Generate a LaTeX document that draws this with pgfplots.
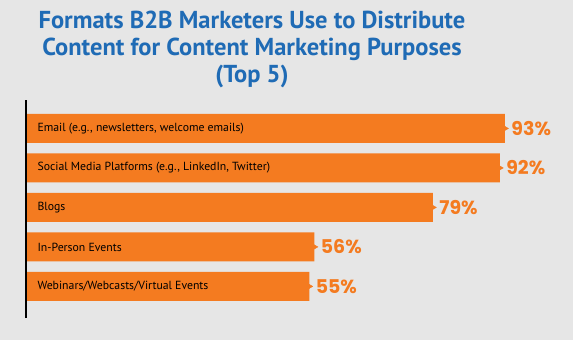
\documentclass[border=0pt]{standalone}
\usepackage{pgfplots}
\pgfplotsset{compat=1.18}
\usepackage{fontspec}
\setmainfont{PT Sans}
\newfontfamily\pop{Poppins}
\definecolor{bg}{HTML}{E6E6E6}
\definecolor{tblue}{HTML}{1F6BB5}
\definecolor{org}{HTML}{F47B20}
\begin{document}
\begin{tikzpicture}
\fill[bg] (0,0) rectangle (573bp,-340bp);
\node[anchor=base, text=tblue, font=\fontsize{24.6}{28}\selectfont\bfseries] at (252bp,-28bp) {Formats B2B Marketers Use to Distribute};
\node[anchor=base, text=tblue, font=\fontsize{24.6}{28}\selectfont\bfseries] at (252bp,-55bp) {Content for Content Marketing Purposes};
\node[anchor=base, text=tblue, font=\fontsize{24.6}{28}\selectfont\bfseries] at (252bp,-82bp) {(Top 5)};
\begin{axis}[
  scale only axis,
  width=515bp, height=218bp,
  at={(26bp,-318bp)}, anchor=south west,
  xmin=0, xmax=100, ymin=-0.8, ymax=4.72,
  axis x line=none,
  axis y line*=left,
  y axis line style={line width=1.5pt, black, -},
  xtick=\empty,
  ytick={0,1,2,3,4},
  yticklabels={{Webinars/Webcasts/Virtual Events}, {In-Person Events}, {Blogs}, {Social Media Platforms (e.g., LinkedIn, Twitter)}, {Email (e.g., newsletters, welcome emails)}},
  major tick length=0pt,
  yticklabel style={anchor=west, xshift=8bp, font=\fontsize{11.8}{14}\selectfont, text=black},
  axis on top,
  clip=false,
  /pgf/number format/assume math mode=true,
]
\addplot[xbar, bar width=29bp, fill=org, draw=none,
  nodes near coords={\pgfmathprintnumber{\pgfplotspointmeta}\%},
  nodes near coords style={anchor=west, xshift=3bp, text=org, font=\pop\fontsize{19}{22}\selectfont\bfseries},
  point meta=x]
  coordinates {(55,0) (56,1) (79,2) (92,3) (93,4)};
\addplot[only marks, color=org, mark=triangle*, mark size=3.5bp, mark options={rotate=-90, fill=org, draw=org}]
  coordinates {(55,0) (56,1) (79,2) (92,3) (93,4)};
\end{axis}
\end{tikzpicture}
\end{document}
